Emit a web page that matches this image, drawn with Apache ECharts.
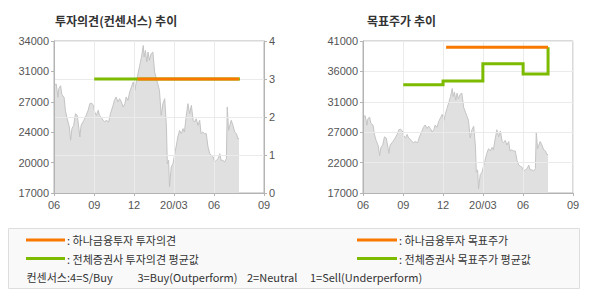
<!DOCTYPE html>
<html><head><meta charset="utf-8">
<script src="https://cdn.jsdelivr.net/npm/echarts@6/dist/echarts.min.js"></script>
<style>html,body{margin:0;padding:0;background:#fff}#c{width:590px;height:300px}</style>
</head><body><div id="c"></div>
<script>
const titles = ['투자의견(컨센서스) 추이', '목표주가 추이'];
const xTickDates = ['2019-06-01', '2019-09-01', '2019-12-01', '2020-03-01', '2020-06-01', '2020-09-23'];
const xTickLabels = ['06', '09', '12', '20/03', '06', '09'];
const leftYTicks = [17000, 20400, 23800, 27200, 30600, 34000];
const leftYLabels = ['17000', '20000', '24000', '27000', '31000', '34000'];
const rightYTicks = [17000, 21800, 26600, 31400, 36200, 41000];
const rightYLabels = ['17000', '22000', '27000', '31000', '36000', '41000'];
const opinionMin = 0, opinionMax = 4;

const price = [
 ['2019-06-01',29040],['2019-06-06',29200],['2019-06-10',27700],['2019-06-12',28670],['2019-06-16',29000],
 ['2019-06-19',28000],['2019-06-24',27700],['2019-06-27',26250],['2019-07-01',25300],['2019-07-06',24400],
 ['2019-07-09',22900],['2019-07-12',24200],['2019-07-16',24570],['2019-07-20',25870],['2019-07-24',25690],
 ['2019-07-28',24200],['2019-07-30',23260],['2019-08-02',24570],['2019-08-08',25100],['2019-08-12',25500],
 ['2019-08-18',26250],['2019-08-22',27000],['2019-08-26',27060],['2019-08-30',26800],['2019-09-02',26060],
 ['2019-09-06',25690],['2019-09-10',26250],['2019-09-13',25690],['2019-09-17',25500],['2019-09-21',25130],
 ['2019-09-25',24940],['2019-09-28',25130],['2019-10-04',24940],['2019-10-08',25870],['2019-10-14',26800],
 ['2019-10-17',27360],['2019-10-21',27740],['2019-10-25',27180],['2019-10-29',27550],['2019-11-02',27180],
 ['2019-11-06',26620],['2019-11-10',26990],['2019-11-13',27740],['2019-11-17',27360],['2019-11-21',28300],
 ['2019-11-25',28855],['2019-11-29',29410],['2019-12-03',28480],['2019-12-06',29410],['2019-12-10',30350],
 ['2019-12-14',31280],['2019-12-18',32210],['2019-12-22',33500],['2019-12-24',32210],['2019-12-27',32950],
 ['2019-12-30',31650],['2020-01-02',32770],['2020-01-05',31840],['2020-01-09',32580],['2020-01-13',32770],
 ['2020-01-17',30530],['2020-01-20',29970],['2020-01-24',29230],['2020-01-28',28480],['2020-02-01',25690],
 ['2020-02-05',26990],['2020-02-09',27550],['2020-02-13',24380],['2020-02-15',20280],['2020-02-18',20650],
 ['2020-02-20',17670],['2020-02-24',19900],['2020-02-28',20280],['2020-03-03',21400],['2020-03-06',22150],
 ['2020-03-10',23260],['2020-03-14',24000],['2020-03-18',23640],['2020-03-22',24200],['2020-03-25',23820],
 ['2020-03-29',25500],['2020-04-02',26990],['2020-04-06',25870],['2020-04-10',26800],['2020-04-14',25130],
 ['2020-04-17',24940],['2020-04-21',25300],['2020-04-25',24570],['2020-04-29',25130],['2020-05-02',23640],
 ['2020-05-06',23820],['2020-05-10',23640],['2020-05-14',23640],['2020-05-18',22150],['2020-05-22',21400],
 ['2020-05-26',21210],['2020-05-30',21030],['2020-06-02',20470],['2020-06-06',20650],['2020-06-10',20840],
 ['2020-06-14',21400],['2020-06-17',20650],['2020-06-21',20650],['2020-06-25',20470],['2020-06-29',20840],
 ['2020-07-01',26620],['2020-07-04',24000],['2020-07-06',24380],['2020-07-10',25130],['2020-07-14',24570],
 ['2020-07-18',23820],['2020-07-22',23640],['2020-07-25',23080],['2020-07-28',23080]
];
const hanaOpinion = [['2019-12-09', 3], ['2020-07-28', 3]];
const consensusOpinion = [['2019-09-01', 3], ['2020-07-30', 3]];
const hanaTarget = [['2019-12-08', 40000], ['2020-07-28', 40000]];
const consensusTarget = [['2019-09-01', 34100], ['2019-12-01', 34700], ['2020-03-01', 37400], ['2020-06-01', 35800], ['2020-07-28', 40000]];

const legendLeft = [': 하나금융투자 투자의견', ': 전체증권사 투자의견 평균값'];
const legendRight = [': 하나금융투자 목표주가', ': 전체증권사 목표주가 평균값'];
const consensusNote = ['컨센서스:4=S/Buy', '3=Buy(Outperform)', '2=Neutral', '1=Sell(Underperform)'];

const ORANGE = '#f87800', GREEN = '#7dbb00';
const FONT_KR = '"Noto Sans CJK KR", sans-serif';
const FONT_NUM = '"Liberation Sans", Arial, sans-serif';
const toTs = s => echarts.time.parse(s).getTime();
const toXY = arr => arr.map(d => [toTs(d[0]), d[1]]);
const xTickTs = xTickDates.map(toTs);
const fmtX = v => { const i = xTickTs.findIndex(t => Math.abs(t - v) < 1000); return i >= 0 ? xTickLabels[i] : ''; };
const mkFmt = (ticks, labels) => v => { const i = ticks.findIndex(t => Math.abs(t - v) < 1e-6); return i >= 0 ? labels[i] : ''; };

const AXIS_COLOR = '#b4b4b4', GRID_COLOR = '#ebebeb', LABEL_COLOR = '#555';

function xAxis(gridIndex) {
  return {
    type: 'value', gridIndex, min: xTickTs[0], max: xTickTs[xTickTs.length - 1], z: 5,
    axisLine: { show: true, lineStyle: { color: AXIS_COLOR } },
    axisTick: { show: true, length: 3, customValues: xTickTs, lineStyle: { color: AXIS_COLOR } },
    axisLabel: { customValues: xTickTs, formatter: fmtX, color: LABEL_COLOR, fontSize: 11, fontFamily: FONT_NUM, margin: 6, hideOverlap: false, showMinLabel: true, showMaxLabel: true },
    splitLine: { show: true, lineStyle: { color: GRID_COLOR } }
  };
}
function yAxisPrice(gridIndex, ticks, labels, split) {
  return {
    type: 'value', gridIndex, min: ticks[0], max: ticks[ticks.length - 1], z: 5,
    axisLine: { show: true, lineStyle: { color: AXIS_COLOR } },
    axisTick: { show: true, length: 3, customValues: ticks, lineStyle: { color: AXIS_COLOR } },
    axisLabel: { customValues: ticks, formatter: mkFmt(ticks, labels), color: LABEL_COLOR, fontSize: 11, fontFamily: FONT_NUM, margin: 5 },
    splitLine: { show: split, lineStyle: { color: GRID_COLOR } }
  };
}

const chart = echarts.init(document.getElementById('c'), null, { renderer: 'svg' });
const areaSeries = (xi, yi) => ({
  type: 'line', xAxisIndex: xi, yAxisIndex: yi, data: toXY(price), symbol: 'none', z: 1,
  lineStyle: { color: '#c4c4c4', width: 1 }, areaStyle: { color: '#e0e0e0', opacity: 1 }, silent: true
});
const lineSeries = (xi, yi, data, color, step) => ({
  type: 'line', xAxisIndex: xi, yAxisIndex: yi, data: toXY(data), symbol: 'none', z: 10, step: step || false,
  lineStyle: { color, width: 3, cap: 'butt', join: 'miter' }, silent: true
});

const legendGraphics = [
  { type: 'rect', shape: { x: 8.5, y: 228.5, width: 571, height: 60 }, style: { fill: '#f9f9f9', stroke: '#dedede', lineWidth: 1 } },
  { type: 'line', shape: { x1: 26, y1: 240, x2: 65, y2: 240 }, style: { stroke: ORANGE, lineWidth: 3 } },
  { type: 'line', shape: { x1: 26, y1: 258.5, x2: 65, y2: 258.5 }, style: { stroke: GREEN, lineWidth: 3 } },
  { type: 'line', shape: { x1: 357, y1: 240, x2: 397, y2: 240 }, style: { stroke: ORANGE, lineWidth: 3 } },
  { type: 'line', shape: { x1: 357, y1: 258.5, x2: 397, y2: 258.5 }, style: { stroke: GREEN, lineWidth: 3 } }
];
const txt = (x, y, s, size, weight) => ({ type: 'text', x, y, style: { text: s, fill: '#333', font: (weight || 'normal') + ' ' + size + 'px ' + FONT_KR, verticalAlign: 'middle', align: 'left' } });
legendGraphics.push(txt(67, 240, legendLeft[0], 11), txt(67, 258.5, legendLeft[1], 11));
legendGraphics.push(txt(399, 240, legendRight[0], 11), txt(399, 258.5, legendRight[1], 11));
const noteX = [26.5, 137.5, 247, 310];
consensusNote.forEach((s, i) => legendGraphics.push(txt(noteX[i], 277, s, 11)));
legendGraphics.push(
  txt(55, 20.5, titles[0], 12, 'bold'),
  txt(367, 20.5, titles[1], 12, 'bold')
);

chart.setOption({
  animation: false,
  backgroundColor: '#fff',
  grid: [
    { left: 54, right: 326, top: 41, bottom: 107, show: true, borderColor: AXIS_COLOR, borderWidth: 1, backgroundColor: 'transparent' },
    { left: 363, right: 17, top: 41, bottom: 107, show: true, borderColor: AXIS_COLOR, borderWidth: 1, backgroundColor: 'transparent' }
  ],
  xAxis: [xAxis(0), xAxis(1)],
  yAxis: [
    yAxisPrice(0, leftYTicks, leftYLabels, false),
    { type: 'value', gridIndex: 0, position: 'right', min: opinionMin, max: opinionMax, interval: 1, z: 5,
      axisLine: { show: true, lineStyle: { color: AXIS_COLOR } },
      axisTick: { show: true, length: 3, lineStyle: { color: AXIS_COLOR } },
      axisLabel: { color: LABEL_COLOR, fontSize: 11, fontFamily: FONT_NUM, margin: 5 },
      splitLine: { show: true, lineStyle: { color: GRID_COLOR } } },
    yAxisPrice(1, rightYTicks, rightYLabels, true)
  ],
  series: [
    areaSeries(0, 0),
    lineSeries(0, 1, consensusOpinion, GREEN),
    lineSeries(0, 1, hanaOpinion, ORANGE),
    areaSeries(1, 2),
    lineSeries(1, 2, consensusTarget, GREEN, 'end'),
    lineSeries(1, 2, hanaTarget, ORANGE)
  ],
  graphic: legendGraphics
});
</script></body></html>
